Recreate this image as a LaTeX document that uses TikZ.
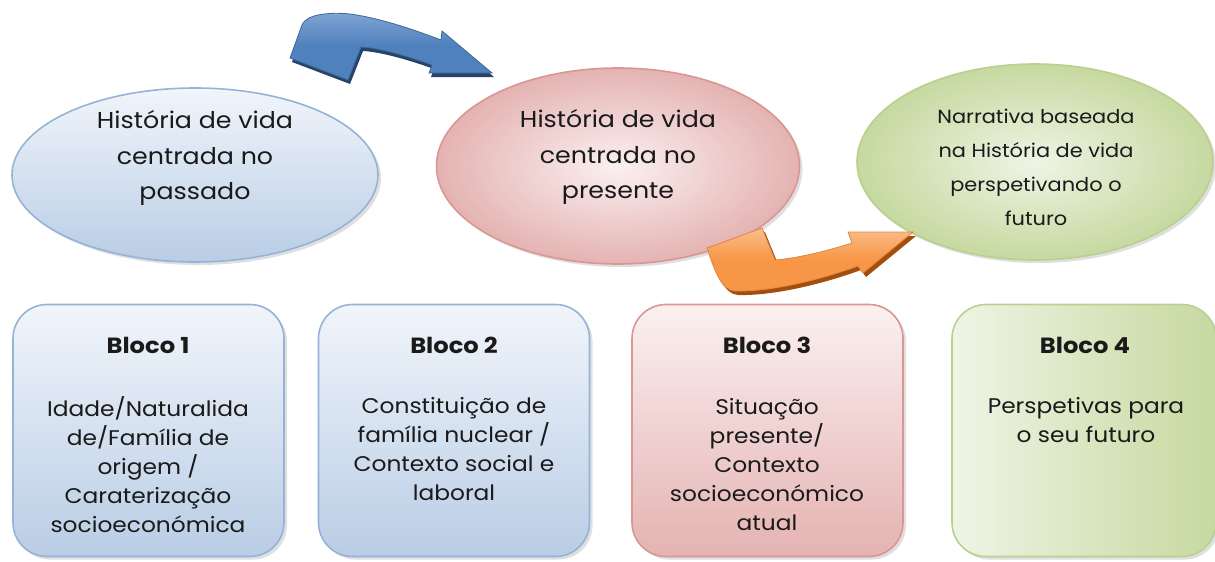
\documentclass[tikz,border=0pt]{standalone}
\usepackage{fontspec}
\setmainfont{Poppins}[FakeStretch=1.1]
\usetikzlibrary{shadows,shapes.geometric}
\definecolor{bluefillA}{HTML}{F1F5FB}
\definecolor{bluefillB}{HTML}{B9CDE5}
\definecolor{blueline}{HTML}{95B3D7}
\definecolor{redfillA}{HTML}{FBF0F0}
\definecolor{redfillB}{HTML}{E4B3B2}
\definecolor{redline}{HTML}{D99694}
\definecolor{greenfillA}{HTML}{EFF4E5}
\definecolor{greenfillB}{HTML}{C6D9A0}
\definecolor{greenline}{HTML}{B9D08F}
\definecolor{arrowblue}{HTML}{4F81BD}
\definecolor{arrowblueL}{HTML}{7FA5D4}
\definecolor{arrowblueD}{HTML}{24446E}
\definecolor{arroworange}{HTML}{F79646}
\definecolor{arroworangeL}{HTML}{FBBE8C}
\definecolor{arroworangeD}{HTML}{A24E0E}
\definecolor{txt}{HTML}{1A1A1A}
\tikzset{
  oval/.style={ellipse, inner sep=0pt, line width=1.6pt,
    drop shadow={shadow xshift=3pt, shadow yshift=-3pt, opacity=0.25}},
  block/.style={rectangle, rounded corners=34pt, inner sep=0pt, line width=1.6pt,
    minimum width=271pt, minimum height=252pt,
    drop shadow={shadow xshift=3pt, shadow yshift=-3pt, opacity=0.25}},
  ovaltext/.style={align=center, text=txt, font=\fontsize{23}{35.5}\selectfont},
  smallovaltext/.style={align=center, text=txt, font=\fontsize{19}{34}\selectfont},
  blocktitle/.style={text=txt, font=\fontsize{22}{29}\selectfont\bfseries},
  blocktext/.style={align=center, text=txt, font=\fontsize{21.2}{29}\selectfont},
  bluearrowpath/.style={insert path={
    (290,58) -- (302,25) .. controls (306,14) and (330,12) .. (350,14)
    .. controls (380,18) and (415,30) .. (441,40) -- (442,31) -- (492,73)
    -- (429,73) -- (432,65) .. controls (410,57) and (380,48) .. (361,47)
    -- (348,80) -- cycle}},
  orangearrowpath/.style={insert path={
    (707,248) -- (762,228) -- (775,260) .. controls (800,258) and (830,250) .. (852,243)
    -- (848,232) -- (913,232) -- (863,273) -- (858,266)
    .. controls (820,280) and (770,292) .. (735,291)
    .. controls (722,290) and (716,275) .. (707,248) -- cycle}}
}
\begin{document}
\begin{tikzpicture}[x=1pt,y=-1pt]
\useasboundingbox (0,0) rectangle (1215,562);
% ellipses
\node[oval, draw=blueline, top color=bluefillA, bottom color=bluefillB,
  minimum width=366pt, minimum height=174pt] (e1) at (195,175) {};
\node[oval, draw=redline, inner color=redfillA, outer color=redfillB,
  minimum width=363pt, minimum height=196pt] (e2) at (618,166) {};
\node[oval, draw=greenline, inner color=greenfillA, outer color=greenfillB,
  minimum width=356pt, minimum height=196pt] (e3) at (1035,162) {};
\node[ovaltext] (t1) at (195,158) {História de vida\\centrada no\\passado};
\node[ovaltext] (t2) at (618,157) {História de vida\\centrada no\\presente};
\node[smallovaltext] (t3) at (1036,167) {Narrativa baseada\\na História de vida\\perspetivando o\\futuro};
% arrows
\fill[arrowblueD, shift={(2,4)}] [bluearrowpath];
\path[draw=arrowblue!80!black, line width=0.8pt, top color=arrowblueL, bottom color=arrowblue, middle color=arrowblue] [bluearrowpath];
\fill[arroworangeD, shift={(3,4)}] [orangearrowpath];
\path[draw=arroworange!90!black, line width=0.8pt, top color=arroworangeL, bottom color=arroworange, middle color=arroworange] [orangearrowpath];
% blocks
\node[block, draw=blueline, top color=bluefillA, bottom color=bluefillB] (b1) at (148.5,430.5) {};
\node[block, draw=blueline, top color=bluefillA, bottom color=bluefillB] (b2) at (454,430.5) {};
\node[block, draw=redline, top color=redfillA, bottom color=redfillB] (b3) at (767.5,430.5) {};
\node[block, draw=greenline, shading angle=135, left color=greenfillA, right color=greenfillB, minimum width=264pt] (b4) at (1084,430.5) {};
\node[blocktitle] (h1) at (148,345) {Bloco 1};
\node[blocktitle] (h2) at (454,345) {Bloco 2};
\node[blocktitle] (h3) at (767,345) {Bloco 3};
\node[blocktitle] (h4) at (1085,345) {Bloco 4};
\node[blocktext] (c1) at (148,464.5) {Idade/Naturalida\\de/Família de\\origem /\\Caraterização\\socioeconómica};
\node[blocktext] (c2) at (454,449.5) {Constituição de\\família nuclear /\\Contexto social e\\laboral};
\node[blocktext] (c3) at (767,464.5) {Situação\\presente/\\Contexto\\socioeconómico\\atual};
\node[blocktext] (c4) at (1086,420.5) {Perspetivas para\\o seu futuro};
\end{tikzpicture}
\end{document}
